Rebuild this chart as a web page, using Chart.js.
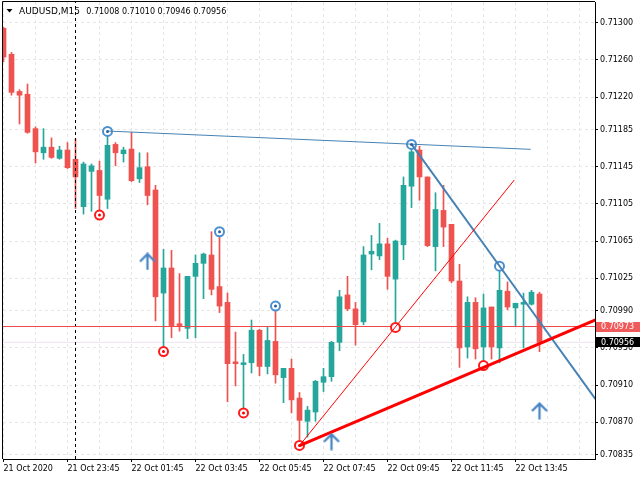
<!DOCTYPE html>
<html><head><meta charset="utf-8">
<script src="https://cdn.jsdelivr.net/npm/chart.js@4.4.0/dist/chart.umd.min.js"></script>
<style>html,body{margin:0;padding:0;background:#fff;}#wrap{width:640px;height:480px;}</style>
</head><body><div id="wrap"><canvas id="c" width="640" height="480"></canvas></div>
<script>
const symbol = 'AUDUSD,M15';
const lastQuote = ['0.71008', '0.71010', '0.70946', '0.70956'];

const open  = [0.71294,0.71266,0.71226,0.71223,0.71186,0.71160,0.71166,0.71154,0.71163,0.71153,
               0.71102,0.71140,0.71141,0.71110,0.71169,0.71159,0.71164,0.71132,0.71145,0.71120,
               0.71009,0.71036,0.70976,0.70971,0.71027,0.71041,0.71050,0.71016,0.70999,0.70935,
               0.70932,0.70934,0.70969,0.70930,0.70957,0.70918,0.70928,0.70896,0.70871,0.70881,
               0.70913,0.70919,0.70956,0.71007,0.70992,0.70978,0.71051,0.71049,0.71062,0.71024,
               0.71061,0.71124,0.71163,0.71134,0.71059,0.71098,0.71083,0.71022,0.70951,0.70999,
               0.70951,0.70994,0.70950,0.71011,0.70993,0.70997,0.70997,0.71008];
const high  = [0.71295,0.71268,0.71228,0.71234,0.71188,0.71186,0.71176,0.71167,0.71171,0.71175,
               0.71150,0.71148,0.71151,0.71183,0.71171,0.71166,0.71182,0.71160,0.71160,0.71125,
               0.71056,0.71055,0.71030,0.71027,0.71050,0.71052,0.71075,0.71075,0.71009,0.70967,
               0.70943,0.70980,0.70970,0.70972,0.70995,0.70928,0.70938,0.70902,0.70887,0.70915,
               0.70928,0.70957,0.71012,0.71027,0.70999,0.71059,0.71071,0.71084,0.71068,0.71066,
               0.71134,0.71169,0.71167,0.71134,0.71117,0.71125,0.71083,0.71040,0.71005,0.71004,
               0.71008,0.70994,0.71038,0.71021,0.70998,0.71009,0.71012,0.71010];
const low   = [0.71258,0.71222,0.71191,0.71181,0.71149,0.71153,0.71154,0.71153,0.71143,0.71100,
               0.71094,0.71097,0.71098,0.71100,0.71146,0.71150,0.71129,0.71128,0.71104,0.70979,
               0.70951,0.70961,0.70968,0.70960,0.70961,0.71003,0.71007,0.70988,0.70892,0.70909,
               0.70883,0.70923,0.70920,0.70922,0.70912,0.70891,0.70880,0.70845,0.70854,0.70871,
               0.70903,0.70914,0.70947,0.70990,0.70953,0.70975,0.71034,0.71045,0.71013,0.70974,
               0.71045,0.71101,0.71109,0.71059,0.71033,0.71059,0.71020,0.70929,0.70939,0.70938,
               0.70933,0.70938,0.70934,0.70991,0.70974,0.70950,0.70996,0.70946];
const close = [0.71263,0.71225,0.71222,0.71182,0.71161,0.71166,0.71155,0.71163,0.71144,0.71134,
               0.71148,0.71146,0.71114,0.71168,0.71160,0.71163,0.71130,0.71144,0.71114,0.71005,
               0.71036,0.70974,0.70974,0.71027,0.71041,0.71051,0.71013,0.70995,0.70933,0.70933,
               0.70934,0.70969,0.70930,0.70958,0.70921,0.70928,0.70894,0.70872,0.70883,0.70914,
               0.70919,0.70956,0.71005,0.70992,0.70975,0.71050,0.71054,0.71062,0.71027,0.71065,
               0.71125,0.71161,0.71134,0.71060,0.71099,0.71080,0.71022,0.70950,0.70999,0.70949,
               0.70993,0.70951,0.71012,0.70994,0.70998,0.70999,0.71010,0.70956];

const xTickLabels = ['21 Oct 2020','21 Oct 23:45','22 Oct 01:45','22 Oct 03:45','22 Oct 05:45',
                     '22 Oct 07:45','22 Oct 09:45','22 Oct 11:45','22 Oct 13:45'];
const yTickLabels = ['0.71300','0.71260','0.71220','0.71185','0.71145','0.71105','0.71065',
                     '0.71025','0.70990','0.70950','0.70910','0.70870','0.70835'];

const hLinePrice = 0.70973;
const bidPrice = 0.70956;
const separatorIdx = 9;

const trendBlueThin  = [[13, 0.711834], [65.9, 0.711637]];
const trendBlueThick = [[51, 0.711694], [62, 0.710381], [74, 0.708949]];
const trendRedThin   = [[37, 0.708449], [63.85, 0.711307]];
const trendRedThick  = [[37, 0.708449], [74, 0.709802]];

const upRingsDot   = [[13, 0.71183], [27, 0.71075], [34, 0.70995], [51, 0.71169]];
const upRingsPlain = [[62, 0.71038]];
const dnRingsDot   = [[12, 0.71093], [20, 0.70946], [30, 0.70880], [37, 0.70845]];
const dnRingsPlain = [[49, 0.70972], [60, 0.70931]];
const arrowsUp     = [[18, 0.71043], [41, 0.70849], [67, 0.70882]];

const TEAL = '#26A69A', RED = '#EF5350', BLUE = '#4682B4';
const Y_MIN = 0.708304, Y_MAX = 0.713223, X_MIN = -0.0625, X_MAX = 73.9375;

const candleColors = close.map((c, i) => c >= open[i] ? TEAL : RED);
const pts = arr => arr.map(p => ({x: p[0], y: p[1]}));

function makeArrow() {
  const c = document.createElement('canvas');
  c.width = 18; c.height = 18;
  const g = c.getContext('2d');
  g.strokeStyle = '#4A86C4'; g.lineWidth = 2.3; g.lineJoin = 'miter';
  g.beginPath();
  g.moveTo(9, 1.5); g.lineTo(9, 17.5);
  g.moveTo(1.5, 9); g.lineTo(9, 1.5); g.lineTo(16.5, 9);
  g.stroke();
  return c;
}
const arrowImg = makeArrow();

const lineDS = (data, color, width, order, dash) => ({
  type: 'line', data: pts(data), borderColor: color, borderWidth: width,
  pointRadius: 0, fill: false, tension: 0, order, borderDash: dash || []
});
const pointDS = (data, style, order) => Object.assign({
  type: 'line', data: pts(data), showLine: false, order
}, style);

const overlay = {
  id: 'overlay',
  afterDraw(chart) {
    const {ctx, chartArea: a, scales: {y}} = chart;
    ctx.save();
    ctx.strokeStyle = '#000'; ctx.lineWidth = 1;
    ctx.beginPath();
    ctx.moveTo(a.left - 0.5, a.bottom); ctx.lineTo(a.left - 0.5, a.top - 0.5); ctx.lineTo(a.right, a.top - 0.5);
    ctx.stroke();
    ctx.fillStyle = '#000';
    ctx.beginPath(); ctx.moveTo(6.5, 9); ctx.lineTo(12.5, 9); ctx.lineTo(9.5, 12.5); ctx.closePath(); ctx.fill();
    ctx.textBaseline = 'alphabetic'; ctx.textAlign = 'left';
    ctx.font = '9px "DejaVu Sans"';
    ctx.fillText(symbol, 19, 13.5);
    ctx.font = '8px "DejaVu Sans"';
    ctx.fillText(lastQuote.join(' '), 86.3, 13.5);
    ctx.textBaseline = 'middle';
    const tag = (price, bg, x0) => {
      const py = y.getPixelForValue(price);
      ctx.fillStyle = bg;
      ctx.fillRect(x0, Math.round(py) - 5, 640 - x0, 10);
      ctx.fillStyle = '#fff';
      ctx.font = '8px "DejaVu Sans"';
      ctx.fillText(price.toFixed(5), 601, py + 0.5);
    };
    tag(hLinePrice, '#F05A5A', 596);
    tag(bidPrice, '#000', 595);
    ctx.restore();
  }
};

new Chart(document.getElementById('c'), {
  type: 'bar',
  data: {
    datasets: [
      pointDS(arrowsUp, {pointStyle: arrowImg, pointRadius: 9}, 0),
      pointDS(upRingsDot, {pointStyle: 'circle', pointRadius: 1.5, pointBackgroundColor: '#2E5E9C', pointBorderWidth: 0}, 1),
      pointDS(dnRingsDot, {pointStyle: 'circle', pointRadius: 1.5, pointBackgroundColor: '#FF0000', pointBorderWidth: 0}, 1),
      lineDS(trendRedThick, '#FF0000', 3, 1.5),
      lineDS(trendRedThin, '#FF0000', 1, 1.5),
      lineDS(trendBlueThick, BLUE, 2, 1.5),
      lineDS(trendBlueThin, BLUE, 1, 1.5),
      pointDS(upRingsDot.concat(upRingsPlain), {pointStyle: 'circle', pointRadius: 4.5, pointBackgroundColor: '#FFFFFF', pointBorderColor: '#4A90D0', pointBorderWidth: 2}, 2),
      pointDS(dnRingsDot.concat(dnRingsPlain), {pointStyle: 'circle', pointRadius: 4.5, pointBackgroundColor: '#FFFFFF', pointBorderColor: '#FF1A1A', pointBorderWidth: 2}, 2),
      lineDS([[X_MIN, hLinePrice], [X_MAX, hLinePrice]], '#F04848', 1, 4),
      lineDS([[X_MIN, bidPrice], [X_MAX, bidPrice]], '#ECE2EC', 1, 9),
      lineDS([[separatorIdx, Y_MIN], [separatorIdx, Y_MAX]], '#000', 1, 5, [3, 3]),
      {
        type: 'bar', order: 6, grouped: false,
        data: open.map((o, i) => ({x: i, y: [o, close[i]]})),
        backgroundColor: candleColors, borderWidth: 0, barThickness: 5, minBarLength: 1, borderSkipped: false
      },
      {
        type: 'bar', order: 7, grouped: false,
        data: low.map((l, i) => ({x: i, y: [l, high[i]]})),
        backgroundColor: candleColors, borderWidth: 0, barThickness: 1, minBarLength: 1, borderSkipped: false
      }
    ]
  },
  options: {
    responsive: false, animation: false, devicePixelRatio: 1,
    layout: {autoPadding: false, padding: {left: 3, top: 2, right: 0, bottom: 0}},
    plugins: {legend: {display: false}, tooltip: {enabled: false}, title: {display: false}},
    scales: {
      x: {
        type: 'linear', position: 'bottom', min: X_MIN, max: X_MAX, offset: false,
        afterBuildTicks: s => { const t = []; for (let v = 0; v <= 72; v += 4) t.push({value: v}); s.ticks = t; },
        afterFit: s => { s.height = 21; s.paddingLeft = 0; s.paddingRight = 0; },
        ticks: {
          autoSkip: false, maxRotation: 0, minRotation: 0, align: 'start', padding: 2,
          color: '#000', font: {family: 'DejaVu Sans', size: 8},
          callback: v => (v % 8 === 0 ? (xTickLabels[v / 8] || '') : '')
        },
        grid: {
          offset: false, color: '#E6E6E6', lineWidth: 1, tickLength: 3,
          tickColor: c => (c.tick && c.tick.value % 8 === 0 && c.tick.value <= 64) ? '#000' : 'rgba(0,0,0,0)'
        },
        border: {display: true, color: '#000', width: 1, dash: [3, 3]}
      },
      y: {
        type: 'linear', position: 'right', min: Y_MIN, max: Y_MAX,
        afterBuildTicks: s => { s.ticks = yTickLabels.map(t => ({value: parseFloat(t)})); },
        afterFit: s => { s.width = 45; s.paddingTop = 0; s.paddingBottom = 0; },
        ticks: {
          padding: 2, color: '#000', font: {family: 'DejaVu Sans', size: 8},
          callback: (v, i) => yTickLabels[i]
        },
        grid: {color: '#E6E6E6', lineWidth: 1, tickLength: 3, tickColor: '#000'},
        border: {display: true, color: '#000', width: 1, dash: [3, 3]}
      }
    }
  },
  plugins: [overlay]
});
</script></body></html>
